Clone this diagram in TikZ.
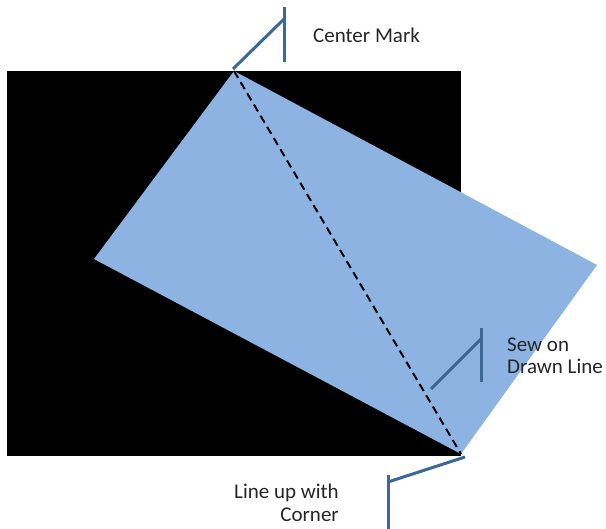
\documentclass[tikz,border=0pt]{standalone}
\usepackage{fontspec}
\setmainfont{Carlito}
\definecolor{quiltblue}{HTML}{8DB3E2}
\definecolor{markblue}{HTML}{3D6796}
\tikzset{
  label/.style={font=\fontsize{21}{22.5}\selectfont, text=black!85, inner sep=0pt},
  callout/.style={draw=markblue, line width=3pt},
}
\begin{document}
\begin{tikzpicture}[x=1pt,y=-1pt]
\useasboundingbox (0,0) rectangle (606,529);
% black background square
\fill[black] (7,71) rectangle (461,456);
% vertices of the blue square
\coordinate (top) at (234,71);
\coordinate (lft) at (94,259);
\coordinate (rgt) at (597,265);
\coordinate (bot) at (461,454);
\fill[quiltblue] (top) -- (rgt) -- (bot) -- (lft) -- cycle;
\draw[dash pattern=on 8pt off 5pt, line width=2pt] (top) -- (bot);
% Center mark callout
\coordinate (cm1) at (233,69);
\coordinate (cm2) at (284,19);
\coordinate (cmt) at (284,7);
\coordinate (cmb) at (284,62);
\draw[callout] (cm1) -- (cm2);
\draw[callout] (cmt) -- (cmb);
\node[label, anchor=west] (center) at (313,35) {Center Mark};
% Sew on drawn line callout
\coordinate (sw1) at (431,389);
\coordinate (sw2) at (481,339);
\coordinate (swt) at (481,328);
\coordinate (swb) at (481,382);
\draw[callout] (sw1) -- (sw2);
\draw[callout] (swt) -- (swb);
\node[label, anchor=west, align=left] (sew) at (507,356) {Sew on\\Drawn Line};
% Line up with corner callout
\coordinate (lu1) at (465,457);
\coordinate (lu2) at (388,482);
\coordinate (lut) at (388,475);
\coordinate (lub) at (388,529);
\draw[callout] (lu1) -- (lu2);
\draw[callout] (lut) -- (lub);
\node[label, anchor=east, align=right] (lineup) at (339,503) {Line up with\\Corner};
\end{tikzpicture}
\end{document}
